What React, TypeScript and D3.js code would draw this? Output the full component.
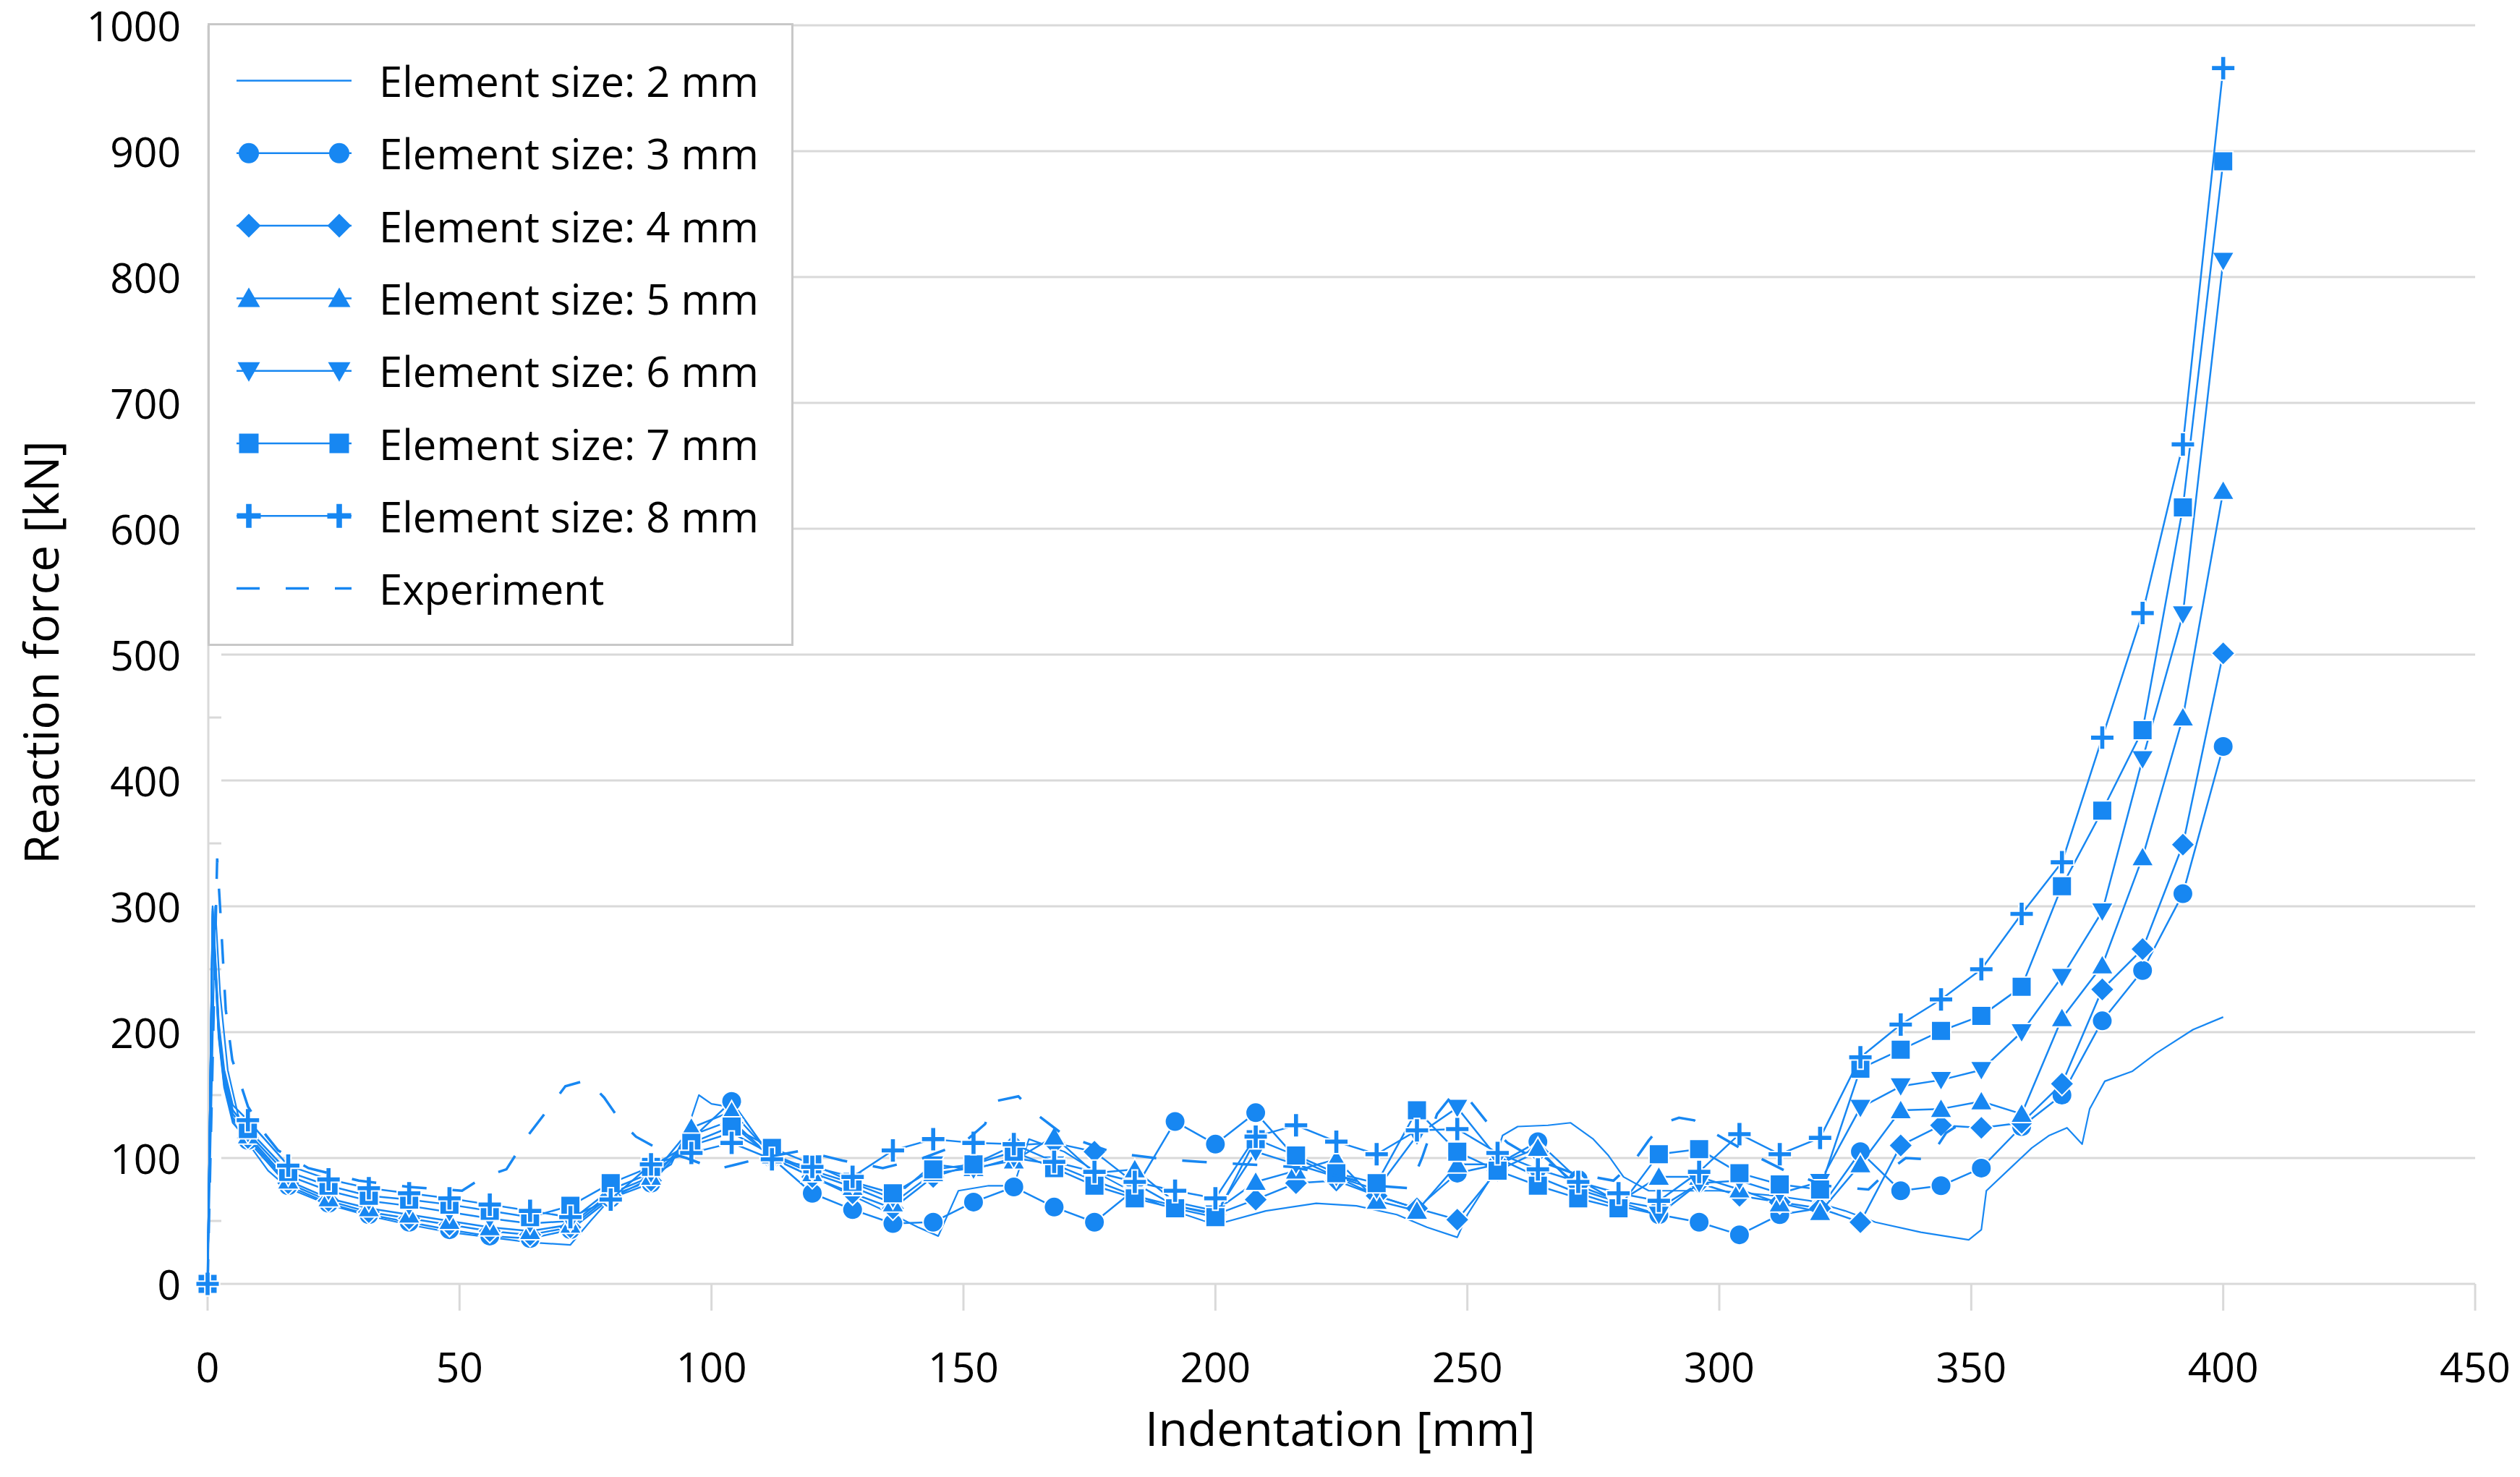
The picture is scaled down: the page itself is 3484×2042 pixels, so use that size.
import React from "react";
import * as d3 from "d3";

const W = 3484;
const H = 2042;

const xTicks = [0, 50, 100, 150, 200, 250, 300, 350, 400, 450];
const yTicks = [0, 100, 200, 300, 400, 500, 600, 700, 800, 900, 1000];
const yMinorTicks = [50, 150, 250, 350, 450, 550, 650, 750, 850, 950];

const seriesNames = [
  "Element size: 2 mm",
  "Element size: 3 mm",
  "Element size: 4 mm",
  "Element size: 5 mm",
  "Element size: 6 mm",
  "Element size: 7 mm",
  "Element size: 8 mm",
  "Experiment",
];

// Marker positions (indentation, mm)
const markerX = [0, 8, 16, 24, 32, 40, 48, 56, 64, 72, 80, 88, 96, 104, 112, 120, 128, 136, 144, 152, 160, 168, 176, 184, 192, 200, 208, 216, 224, 232, 240, 248, 256, 264, 272, 280, 288, 296, 304, 312, 320, 328, 336, 344, 352, 360, 368, 376, 384, 392, 400];

// Initial peak points (line only, no markers)
const earlyX = [1, 2.2, 3.3, 5];
const early3 = [290, 196, 156, 128];
const early4 = [292, 198, 158, 130];
const early5 = [294, 200, 160, 132];
const early6 = [296, 203, 163, 135];
const early7 = [298, 205, 165, 138];
const early8 = [300, 208, 170, 142];

const size3 = [0, 114, 78, 64, 55, 49, 43, 38, 36, 43, 68, 80, 115, 145, 100, 72, 59, 48, 49, 65, 77, 61, 49, 75, 129, 111, 136, 100, 85, 70, 60, 88, 95, 113, 83, 65, 55, 49, 39, 55, 60, 105, 74, 78, 92, 125, 150, 209, 249, 310, 427];
const size4 = [0, 116, 80, 66, 57, 52, 47, 42, 39, 45, 70, 82, 118, 130, 100, 85, 72, 60, 85, 95, 110, 112, 105, 80, 62, 55, 67, 80, 82, 70, 60, 51, 90, 105, 78, 66, 60, 80, 70, 65, 60, 49, 110, 126, 124, 128, 159, 234, 266, 349, 501];
const size5 = [0, 118, 82, 68, 60, 55, 50, 45, 42, 47, 72, 85, 124, 137, 102, 88, 77, 64, 88, 92, 98, 117, 88, 91, 65, 58, 81, 90, 99, 66, 58, 95, 95, 108, 75, 65, 85, 85, 75, 64, 57, 95, 138, 139, 145, 135, 211, 253, 339, 450, 630];
const size6 = [0, 120, 86, 74, 66, 62, 57, 52, 48, 50, 75, 88, 110, 120, 103, 90, 80, 68, 95, 91, 100, 95, 82, 70, 62, 56, 105, 95, 85, 75, 118, 140, 100, 85, 72, 62, 55, 80, 82, 72, 81, 140, 157, 162, 170, 200, 244, 296, 417, 532, 813];
const size7 = [0, 123, 89, 78, 70, 67, 63, 58, 53, 62, 80, 93, 112, 125, 108, 95, 81, 72, 91, 95, 105, 92, 78, 68, 60, 53, 115, 102, 88, 80, 138, 105, 90, 78, 68, 60, 103, 107, 88, 79, 75, 171, 186, 201, 213, 236, 316, 376, 440, 617, 892];
const size8 = [0, 130, 94, 83, 76, 72, 68, 63, 58, 53, 67, 95, 104, 112, 99, 93, 85, 106, 115, 112, 111, 97, 89, 81, 74, 68, 117, 126, 113, 103, 122, 123, 104, 91, 81, 72, 66, 89, 119, 103, 116, 180, 206, 226, 250, 294, 335, 434, 533, 667, 966];

// 2 mm (line only)
const size2X = [0, 0.8, 1.5, 2.5, 4, 6, 8, 12, 16, 24, 32, 40, 48, 56, 64, 72, 76, 80, 86, 92, 95, 97.5, 100, 103, 106, 112, 120, 128, 136, 141, 145, 149, 155, 160, 163, 170, 178, 186, 194, 200, 210, 220, 228, 236, 242, 248, 250, 254, 257, 260, 266, 270.5, 275, 278, 281, 286, 293, 300, 311, 318, 325, 331, 340, 349.5, 352, 353, 357.5, 362, 365.5, 369, 372, 373.5, 376.5, 382, 386.6, 394, 400];
const size2Y = [0, 150, 300, 230, 170, 135, 112, 90, 76, 63, 54, 47, 41, 37, 33, 31, 50, 68, 80, 95, 120, 150, 143, 141, 120, 100, 85, 70, 55, 45, 38, 74, 78, 78, 115, 105, 85, 68, 55, 47, 58, 64, 62, 55, 45, 37, 55, 80, 118, 125, 126, 128, 115, 102, 85, 74, 74, 74, 70, 66, 58, 49, 41, 35, 43, 74, 91, 108, 118, 124, 111, 139, 161, 169, 183, 202, 212];

// Experiment (dashed)
const expX = [0, 1.9, 2.5, 3.6, 4.9, 6.7, 8, 11.6, 14, 20, 30, 40, 50.5, 54.8, 59.3, 63.6, 68, 71, 75.4, 78.7, 82, 85, 90, 95, 101, 110, 118, 126, 134, 142, 150, 154.3, 156.1, 160.9, 164.1, 170, 180, 190, 197, 206, 215, 224, 232, 238.5, 241, 244, 247, 250, 254, 258, 264, 271, 279, 283, 286, 289, 292, 295, 298, 305, 313, 321, 329.6, 333, 337, 341.6, 345, 347];
const expY = [0, 338, 298, 218, 178, 157, 141, 118, 106, 92, 82, 77, 74, 85, 91, 118, 141, 157, 162, 148, 129, 117, 106, 100, 91, 100, 106, 98, 92, 100, 112, 127, 145, 149, 136, 118, 104, 99, 97, 95, 93, 86, 78, 76, 100, 135, 150, 148, 128, 112, 98, 88, 82, 97, 114, 128, 132, 130, 122, 106, 90, 78, 75, 88, 100, 99, 120, 125];

const BLUE = "#1787f2";
const GRID = "#d9d9d9";
const FONT = "'Open Sans', 'Noto Sans', sans-serif";

const x = d3.scaleLinear().domain([0, 450]).range([287, 3422]);
const y = d3.scaleLinear().domain([0, 1000]).range([1775, 35]);

type Pt = [number, number];
const lineGen = d3
  .line<Pt>()
  .x((d) => x(d[0]))
  .y((d) => y(d[1]));

function markerPath(t: string): string {
  switch (t) {
    case "circle":
      return "M14,0A14,14 0 1,1 -14,0A14,14 0 1,1 14,0Z";
    case "diamond":
      return "M0,-16.5L16.5,0L0,16.5L-16.5,0Z";
    case "triangle":
      return "M0,-15L15.5,12L-15.5,12Z";
    case "triangleDown":
      return "M0,15L15.5,-12L-15.5,-12Z";
    case "square":
      return "M-13.5,-13.5H13.5V13.5H-13.5Z";
    case "plus":
      return "M-3.8,-16.5H3.8V-3.8H16.5V3.8H3.8V16.5H-3.8V3.8H-16.5V-3.8H-3.8Z";
    default:
      return "";
  }
}

const markerSeries = [
  { vals: size3, early: early3, marker: "circle" },
  { vals: size4, early: early4, marker: "diamond" },
  { vals: size5, early: early5, marker: "triangle" },
  { vals: size6, early: early6, marker: "triangleDown" },
  { vals: size7, early: early7, marker: "square" },
  { vals: size8, early: early8, marker: "plus" },
];

const legendMarkers = ["", "circle", "diamond", "triangle", "triangleDown", "square", "plus", ""];

export default function App() {
  const line2: Pt[] = size2X.map((v, i) => [v, size2Y[i]]);
  const lineExp: Pt[] = expX.map((v, i) => [v, expY[i]]);

  const legY0 = 111.5;
  const legStep = 100.3;

  return (
    <svg
      width={W}
      height={H}
      style={{ position: "absolute", left: 0, top: 0, background: "#fff" }}
      fontFamily={FONT}
    >
      <rect x={0} y={0} width={W} height={H} fill="#fff" />
      {yTicks.filter((t) => t > 0).map((t) => (
        <line key={"g" + t} x1={306} x2={3422} y1={y(t)} y2={y(t)} stroke={GRID} strokeWidth={3} />
      ))}
      {yMinorTicks.map((t) => (
        <line key={"m" + t} x1={288} x2={306} y1={y(t)} y2={y(t)} stroke={GRID} strokeWidth={3} />
      ))}
      <line x1={288} x2={288} y1={y(0)} y2={y(1000)} stroke={GRID} strokeWidth={3} />
      <line x1={288} x2={3422} y1={y(0)} y2={y(0)} stroke={GRID} strokeWidth={3} />
      {xTicks.map((t) => (
        <line key={"xt" + t} x1={x(t)} x2={x(t)} y1={y(0)} y2={y(0) + 37} stroke={GRID} strokeWidth={3} />
      ))}
      {yTicks.map((t) => (
        <text key={"yl" + t} x={250} y={y(t)} textAnchor="end" dominantBaseline="central" fontSize={57} fill="#000">
          {t}
        </text>
      ))}
      {xTicks.map((t) => (
        <text key={"xl" + t} x={x(t)} y={1889} textAnchor="middle" dominantBaseline="central" fontSize={57} fill="#000">
          {t}
        </text>
      ))}
      <text x={1853} y={1973} textAnchor="middle" dominantBaseline="central" fontSize={66} fill="#000">
        Indentation [mm]
      </text>
      <text
        transform={`translate(55,902) rotate(-90)`}
        textAnchor="middle"
        dominantBaseline="central"
        fontSize={66}
        fill="#000"
      >
        Reaction force [kN]
      </text>

      <path d={lineGen(line2) || ""} fill="none" stroke={BLUE} strokeWidth={2.2} strokeLinejoin="round" />
      {markerSeries.map((s, si) => {
        const pts: Pt[] = [[markerX[0], s.vals[0]]];
        earlyX.forEach((ex, i) => pts.push([ex, s.early[i]]));
        for (let i = 1; i < markerX.length; i++) pts.push([markerX[i], s.vals[i]]);
        return (
          <g key={"s" + si}>
            <path d={lineGen(pts) || ""} fill="none" stroke={BLUE} strokeWidth={2.5} strokeLinejoin="round" />
            {markerX.map((mx, i) => (
              <path
                key={i}
                d={markerPath(s.marker)}
                transform={`translate(${x(mx)},${y(s.vals[i])})`}
                fill={BLUE}
                stroke="#fff"
                strokeWidth={2}
              />
            ))}
          </g>
        );
      })}
      <path
        d={lineGen(lineExp) || ""}
        fill="none"
        stroke={BLUE}
        strokeWidth={3.5}
        strokeDasharray="34,36"
      />

      <rect x={288.5} y={33.5} width={807} height={858} fill="#fff" stroke="#c8c8c8" strokeWidth={3} />
      {seriesNames.map((name, i) => {
        const ly = legY0 + i * legStep;
        const isExp = i === 7;
        return (
          <g key={"lg" + i}>
            <line
              x1={327}
              x2={486}
              y1={ly}
              y2={ly}
              stroke={BLUE}
              strokeWidth={isExp ? 3.5 : 2.5}
              strokeDasharray={isExp ? "32,36" : undefined}
            />
            {legendMarkers[i] && (
              <>
                <path d={markerPath(legendMarkers[i])} transform={`translate(344,${ly})`} fill={BLUE} />
                <path d={markerPath(legendMarkers[i])} transform={`translate(469,${ly})`} fill={BLUE} />
              </>
            )}
            <text x={524} y={ly} dominantBaseline="central" fontSize={58} fill="#000">
              {name}
            </text>
          </g>
        );
      })}
    </svg>
  );
}
